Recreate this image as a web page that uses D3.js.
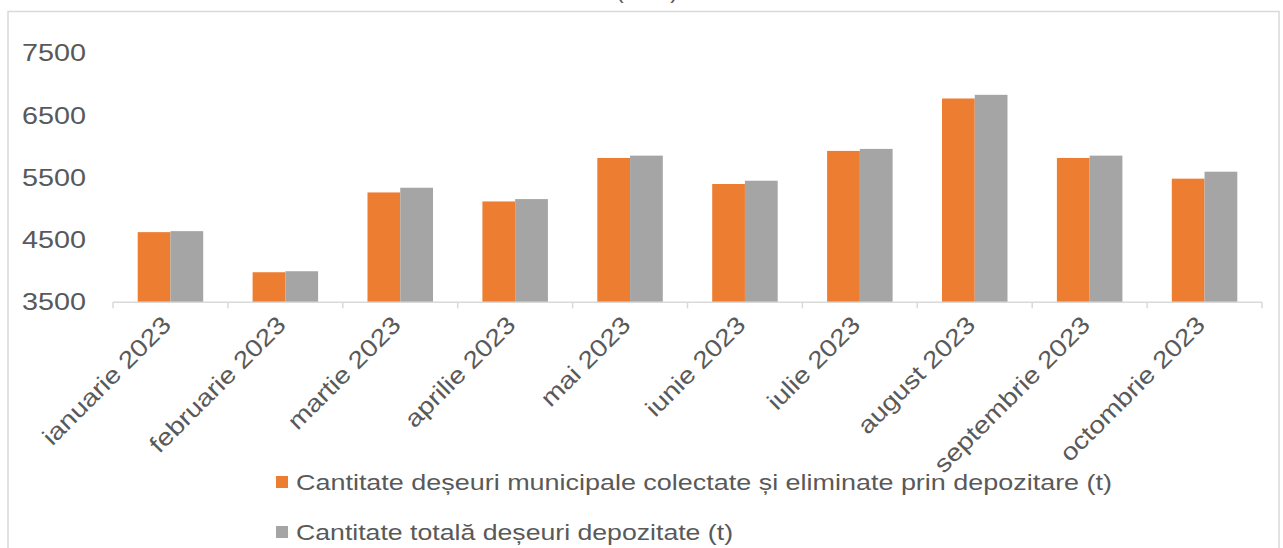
<!DOCTYPE html>
<html><head><meta charset="utf-8">
<script src="https://cdn.jsdelivr.net/npm/d3@7"></script>
<style>
html,body{margin:0;padding:0;background:#fff;}
svg{display:block;font-family:"Liberation Sans",Arial,sans-serif;}
</style></head>
<body><svg id="chart" width="1283" height="548"></svg>
<script>
const categories = ["ianuarie 2023","februarie 2023","martie 2023","aprilie 2023","mai 2023","iunie 2023","iulie 2023","august 2023","septembrie 2023","octombrie 2023"];
const seriesNames = ["Cantitate deșeuri municipale colectate  și eliminate prin depozitare (t)","Cantitate totală deșeuri depozitate (t)"];
const municipale = [4627,3983,5265,5120,5819,5400,5932,6774,5819,5486];
const totala = [4643,3999,5340,5158,5856,5453,5964,6833,5856,5598];
const yTicks = [3500,4500,5500,6500,7500];
const colors = ["#ED7D31","#A5A5A5"];

const svg = d3.select("#chart");
// frame
svg.append("rect").attr("x",8).attr("y",11.5).attr("width",1271).attr("height",600)
  .attr("fill","none").attr("stroke","#D9D9D9").attr("stroke-width",1.5);
// cut-off title (only the bottom of the parentheses is visible in the reference)
svg.append("text").attr("x",647).attr("y",-2).attr("text-anchor","middle")
  .attr("font-size",24).attr("fill","#595959").text("(tone)");

const pLeft=113, pRight=1262, pTop=53.3, pBottom=302.3;
const x0 = d3.scaleBand().domain(categories).range([pLeft,pRight]).paddingInner(0).paddingOuter(0);
const gap = x0.bandwidth()*0.215;
const x1 = d3.scaleBand().domain([0,1]).range([gap, x0.bandwidth()-gap]).padding(0);
const y = d3.scaleLinear().domain([3500,7500]).range([pBottom, pTop]);

const data = categories.map((c,i)=>({c, v:[municipale[i], totala[i]]}));
const g = svg.append("g");
g.selectAll("g.grp").data(data).join("g").attr("class","grp")
  .attr("transform",d=>`translate(${x0(d.c)},0)`)
  .selectAll("rect").data(d=>d.v.map((v,k)=>({v,k}))).join("rect")
  .attr("x",d=>x1(d.k)).attr("width",x1.bandwidth())
  .attr("y",d=>y(d.v)).attr("height",d=>y(3500)-y(d.v))
  .attr("fill",d=>colors[d.k]);

// y axis labels
const yAxis = d3.axisLeft(y).tickValues(yTicks).tickSize(0).tickPadding(0).tickFormat(d3.format("d"));
const ya = svg.append("g").attr("transform","translate(86,0)").call(yAxis);
ya.select(".domain").remove();
ya.selectAll("text").attr("font-size",24).attr("fill","#595959")
  .attr("font-family","Liberation Sans, Arial, sans-serif")
  .attr("textLength",64).attr("lengthAdjust","spacingAndGlyphs");

// x axis
const boundaries = categories.map(c=>x0(c)).concat([pRight]);
svg.append("line").attr("x1",pLeft).attr("x2",pRight).attr("y1",pBottom).attr("y2",pBottom)
  .attr("stroke","#D9D9D9").attr("stroke-width",1.5);
svg.selectAll("line.tk").data(boundaries).join("line").attr("class","tk")
  .attr("x1",d=>d).attr("x2",d=>d).attr("y1",pBottom).attr("y2",pBottom+6)
  .attr("stroke","#D9D9D9").attr("stroke-width",1.5);
const xAxis = d3.axisBottom(x0).tickSize(0).tickPadding(0);
const xa = svg.append("g").attr("transform",`translate(0,${pBottom})`).call(xAxis);
xa.select(".domain").remove();
xa.selectAll("text").attr("font-size",24).attr("fill","#595959")
  .attr("font-family","Liberation Sans, Arial, sans-serif")
  .attr("text-anchor","end").attr("dy",null).attr("y",0)
  .attr("transform","translate(2,24) rotate(-45) scale(1.17,1)");

// legend
const legY = [490, 540];
const leg = svg.append("g");
seriesNames.forEach((n,i)=>{
  leg.append("rect").attr("x",276).attr("y",legY[i]-14).attr("width",12).attr("height",12).attr("fill",colors[i]);
  leg.append("text").attr("x",296).attr("y",legY[i]).attr("font-size",22).attr("fill","#595959")
    .attr("textLength", i===0?816:437).attr("lengthAdjust","spacingAndGlyphs").text(n);
});
</script></body></html>
